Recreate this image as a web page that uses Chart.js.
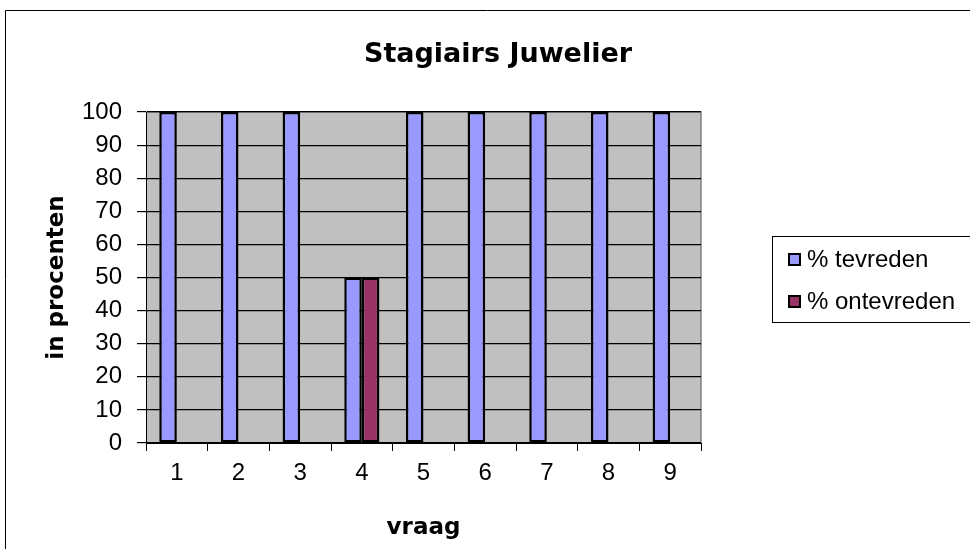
<!DOCTYPE html>
<html>
<head>
<meta charset="utf-8">
<script src="https://cdn.jsdelivr.net/npm/chart.js@4.4.0/dist/chart.umd.min.js"></script>
<style>
    html, body { margin: 0; padding: 0; background: #fff; }
    #wrap { position: relative; width: 970px; height: 549px; }
</style>
</head>
<body>
<div id="wrap"><canvas id="chart" width="970" height="549"></canvas></div>
<script>
const titel = 'Stagiairs Juwelier';
const vragen = ['1', '2', '3', '4', '5', '6', '7', '8', '9'];
const tevreden = [100, 100, 100, 50, 100, 100, 100, 100, 100];
const ontevreden = [0, 0, 0, 50, 0, 0, 0, 0, 0];
const seriesNamen = ['% tevreden', '% ontevreden'];
const seriesKleuren = ['#9999ff', '#993366'];
const yMin = 0, yMax = 100, yStap = 10;

const tickFont = { family: '"Liberation Sans", Arial, sans-serif', size: 24 };
const titleFont = { family: '"DejaVu Sans", sans-serif', size: 23, weight: 'bold' };

// background, plot border, frame, title and legend box
const excelLook = {
    id: 'excelLook',
    beforeDraw(chart) {
        const { ctx, chartArea: a } = chart;
        ctx.save();
        ctx.fillStyle = '#fff';
        ctx.fillRect(0, 0, chart.width, chart.height);
        ctx.fillStyle = '#c0c0c0';
        ctx.fillRect(a.left, a.top, a.right - a.left, a.bottom - a.top);
        ctx.strokeStyle = '#808080';
        ctx.lineWidth = 1.5;
        ctx.beginPath();
        ctx.moveTo(a.left, a.top);
        ctx.lineTo(a.right, a.top);
        ctx.lineTo(a.right, a.bottom);
        ctx.stroke();
        ctx.restore();
    },
    afterDraw(chart) {
        const ctx = chart.ctx;
        ctx.save();
        // outer frame
        ctx.strokeStyle = '#000';
        ctx.lineWidth = 1;
        ctx.beginPath();
        ctx.moveTo(5.5, chart.height);
        ctx.lineTo(5.5, 10.5);
        ctx.lineTo(chart.width, 10.5);
        ctx.stroke();

        // title
        ctx.fillStyle = '#000';
        ctx.font = 'bold 27px "DejaVu Sans", sans-serif';
        ctx.textAlign = 'center';
        ctx.textBaseline = 'alphabetic';
        ctx.fillText(titel, 498, 62);

        // legend
        ctx.strokeRect(772.5, 236.5, 210, 86);
        ctx.font = '24px "Liberation Sans", Arial, sans-serif';
        ctx.textAlign = 'left';
        ctx.textBaseline = 'middle';
        chart.data.datasets.forEach((ds, i) => {
            const y = 253 + i * 42;
            ctx.fillStyle = ds.backgroundColor;
            ctx.fillRect(788, y, 13, 13);
            ctx.lineWidth = 2;
            ctx.strokeStyle = '#000';
            ctx.strokeRect(789, y + 1, 11, 11);
            ctx.fillStyle = '#000';
            ctx.fillText(ds.label, 807, y + 7);
        });
        ctx.restore();
    }
};

const data = {
    labels: vragen,
    datasets: [tevreden, ontevreden].map((values, i) => ({
        label: seriesNamen[i],
        data: values,
        backgroundColor: seriesKleuren[i],
        borderColor: '#000',
        borderWidth: 2.5,
        borderSkipped: false,
        categoryPercentage: 0.57,
        barPercentage: 1
    }))
};

const config = {
    type: 'bar',
    data,
    options: {
        responsive: false,
        animation: false,
        devicePixelRatio: 1,
        layout: { padding: { top: 112, right: 269, left: 0, bottom: 0 } },
        plugins: {
            legend: { display: false },
            title: { display: false },
            tooltip: { enabled: false }
        },
        scales: {
            x: {
                grid: { offset: true, drawOnChartArea: false, color: '#000', tickLength: 8, lineWidth: 1 },
                border: { color: '#000', width: 1 },
                ticks: { color: '#000', font: tickFont, padding: 8, maxRotation: 0 },
                title: { display: true, text: 'vraag', color: '#000', font: titleFont, padding: { top: 0, bottom: 7 } },
                afterFit(scale) { scale.height = 106; }
            },
            y: {
                min: yMin,
                max: yMax,
                ticks: { stepSize: yStap, color: '#000', font: tickFont, padding: 15 },
                grid: { color: '#000', tickLength: 9, lineWidth: 1.2 },
                border: { color: '#000', width: 1 },
                title: { display: true, text: 'in procenten', color: '#000', font: titleFont, padding: { top: 43, bottom: 0 } },
                afterFit(scale) { scale.width = 146; }
            }
        }
    },
    plugins: [excelLook]
};

var myChart = new Chart(document.getElementById('chart'), config);
</script>
</body>
</html>
